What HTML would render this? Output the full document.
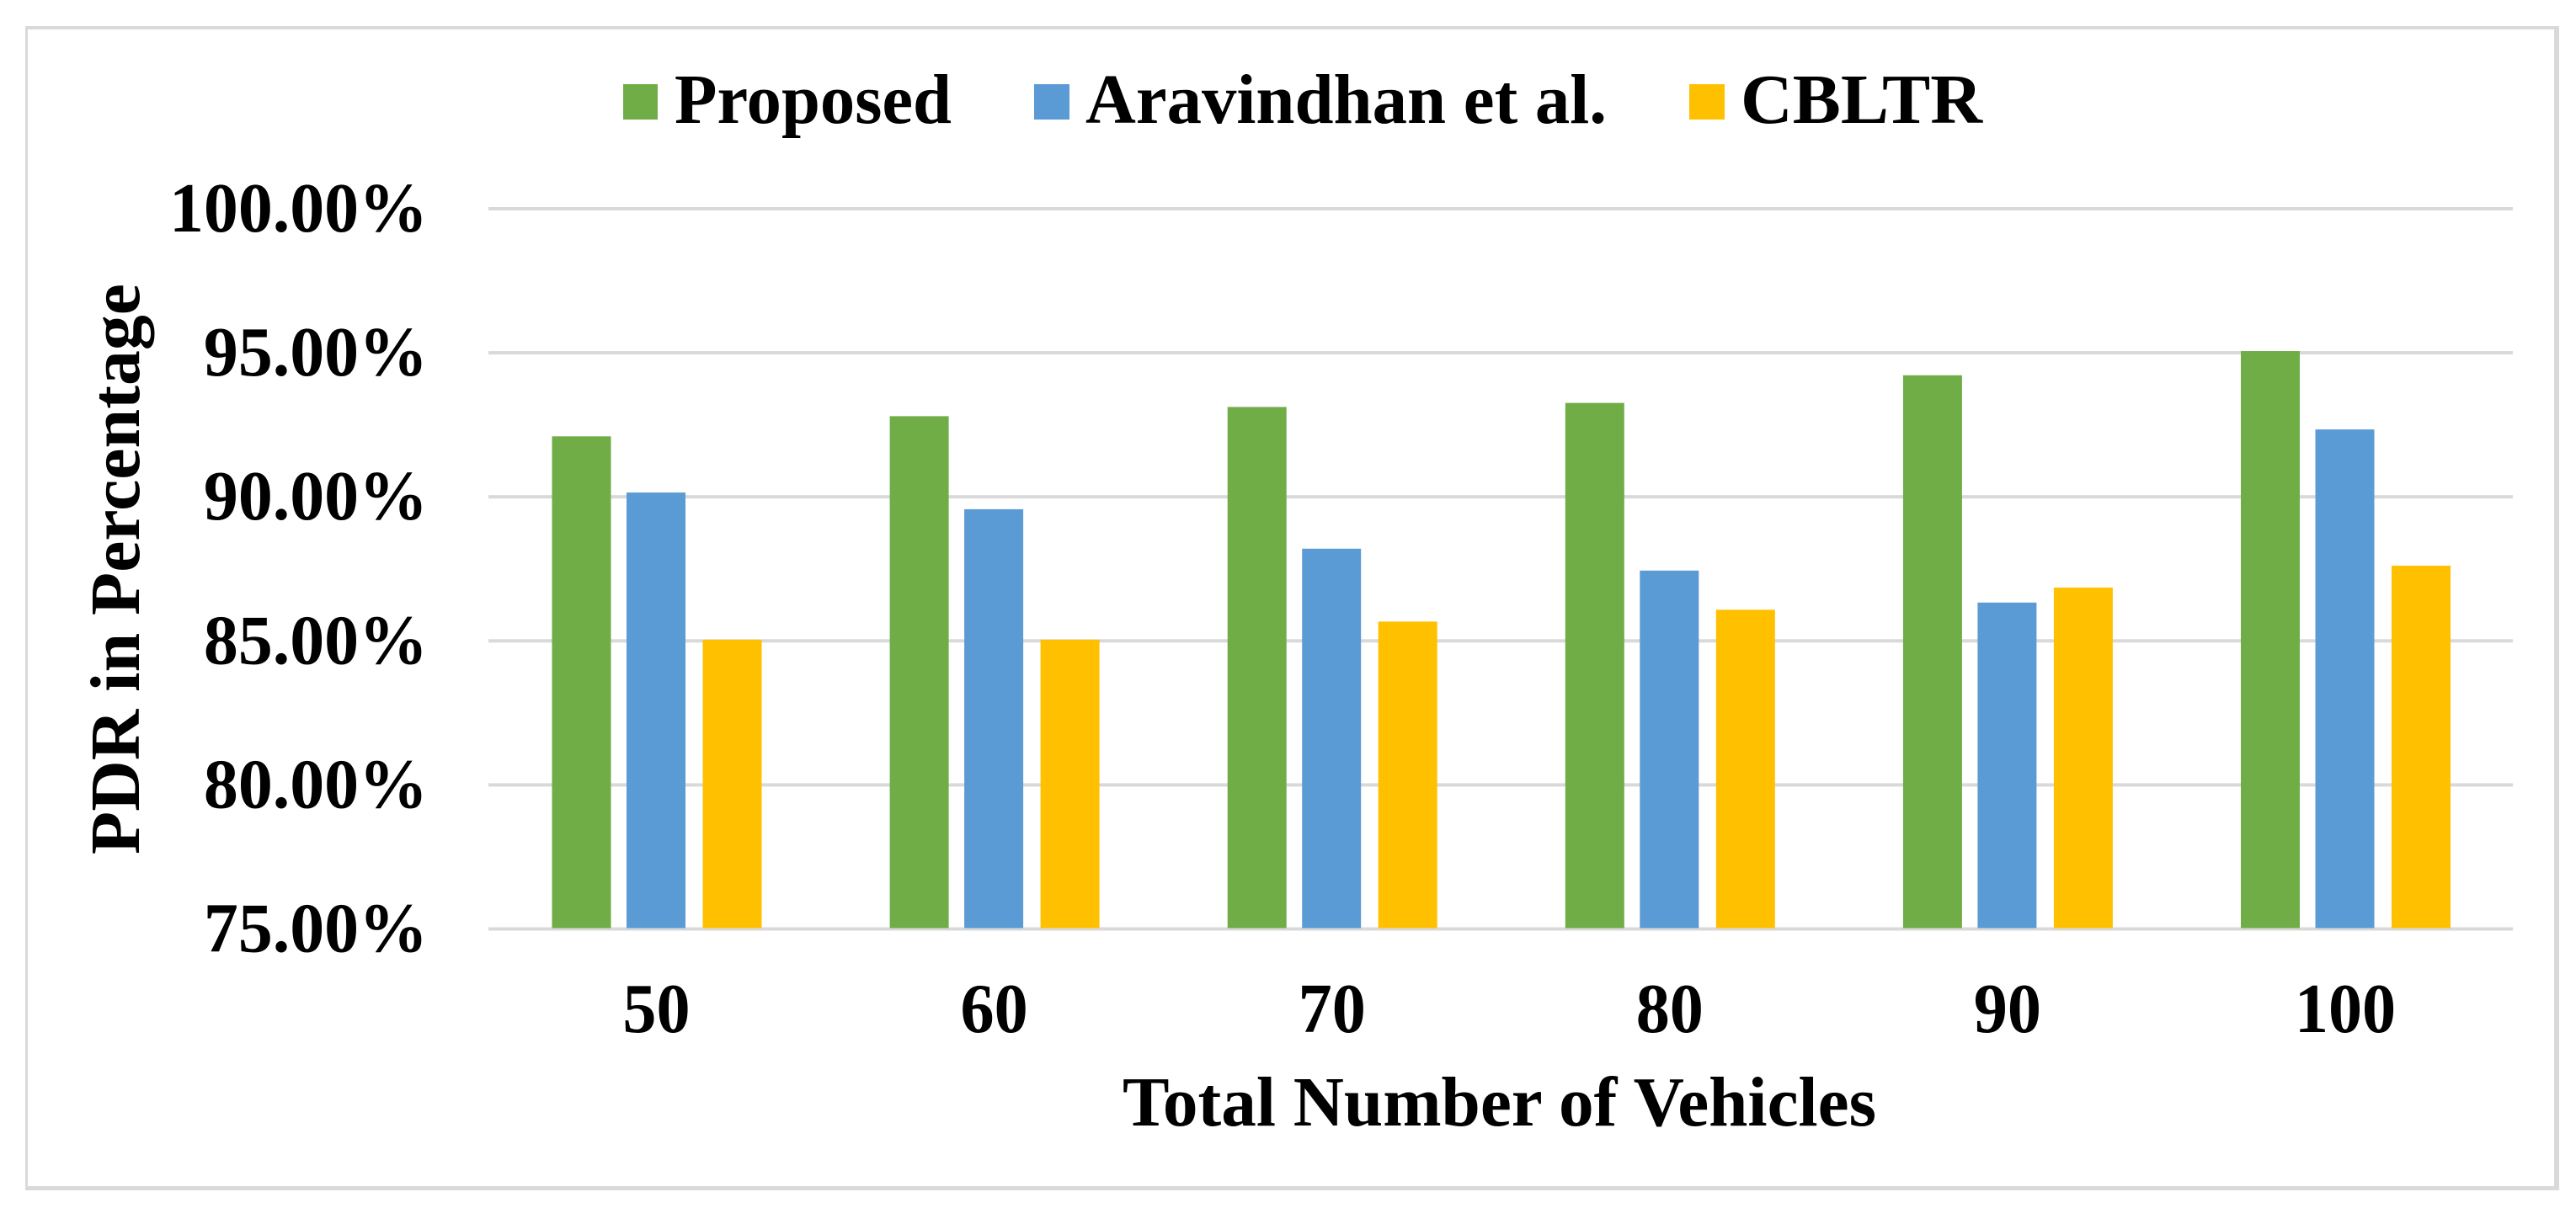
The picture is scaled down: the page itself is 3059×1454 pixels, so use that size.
<!DOCTYPE html>
<html lang="en">
<head>
<meta charset="utf-8">
<title>PDR in Percentage vs Total Number of Vehicles</title>
<style>
  html, body { margin: 0; padding: 0; background: #ffffff; }
  svg { display: block; }
  text { font-family: "Liberation Serif", serif; font-weight: bold; fill: #000000; }
</style>
</head>
<body>
<svg id="chart" xmlns="http://www.w3.org/2000/svg" width="3059" height="1454" viewBox="0 0 3059 1454">
  <rect x="0" y="0" width="3059" height="1454" fill="#ffffff"/>
  <g fill="#d9d9d9">
    <rect x="30" y="31" width="3008" height="4"/>
    <rect x="30" y="1409" width="3008" height="5"/>
    <rect x="30" y="31" width="3" height="1383"/>
    <rect x="3033" y="31" width="6" height="1383"/>
  </g>
  <g id="grid"></g>
  <g id="bars"></g>
  <g id="yticks"></g>
  <g id="xticks"></g>

  <g>
    <g>
      <rect x="740" y="100" width="41" height="42" fill="#70ad47"/>
      <text x="801" y="146" font-size="84" textLength="329" lengthAdjust="spacingAndGlyphs">Proposed</text>
    </g>
    <g>
      <rect x="1228" y="100" width="42" height="42" fill="#5b9bd5"/>
      <text x="1289" y="146" font-size="84" textLength="619" lengthAdjust="spacingAndGlyphs">Aravindhan et al.</text>
    </g>
    <g>
      <rect x="2006" y="100" width="42" height="42" fill="#ffc000"/>
      <text x="2067" y="146" font-size="84" textLength="287" lengthAdjust="spacingAndGlyphs">CBLTR</text>
    </g>
  </g>

  <text transform="translate(165,1015) rotate(-90)" font-size="84" textLength="678" lengthAdjust="spacingAndGlyphs">PDR in Percentage</text>
  <text x="1333" y="1337" font-size="84" textLength="895" lengthAdjust="spacingAndGlyphs">Total Number of Vehicles</text>
</svg>

<script>
const categories = ["50", "60", "70", "80", "90", "100"];
const proposed = [92.10, 92.80, 93.12, 93.26, 94.22, 95.06];
const aravindhan = [90.15, 89.57, 88.20, 87.44, 86.33, 92.34];
const cbltr = [85.04, 85.04, 85.67, 86.08, 86.85, 87.61];
const yTickValues = [75, 80, 85, 90, 95, 100];
const yTickLabels = ["75.00%", "80.00%", "85.00%", "90.00%", "95.00%", "100.00%"];

const NS = "http://www.w3.org/2000/svg";
const plotLeft = 580, plotRight = 2984;
const yBottom = 1103.5, yTop = 248, yMin = 75, yMax = 100;
const groupStep = 401.1, firstCenter = 779.5, barWidth = 70;
const barOffsets = [-124, -35.5, 55];
const seriesList = [
  { key: "proposed", values: proposed, color: "#70ad47" },
  { key: "aravindhan", values: aravindhan, color: "#5b9bd5" },
  { key: "cbltr", values: cbltr, color: "#ffc000" }
];

function yScale(v) { return yBottom - (v - yMin) / (yMax - yMin) * (yBottom - yTop); }
function xCenter(i) { return firstCenter + i * groupStep; }

function make(tag, attrs, parent) {
  const el = document.createElementNS(NS, tag);
  for (const k in attrs) el.setAttribute(k, attrs[k]);
  parent.appendChild(el);
  return el;
}

const gridG = document.getElementById("grid");
const barsG = document.getElementById("bars");
const yG = document.getElementById("yticks");
const xG = document.getElementById("xticks");

yTickValues.forEach(function (v, i) {
  const y = yScale(v);
  const line = make("rect", { x: plotLeft, y: y - 2, width: plotRight - plotLeft, height: 4, fill: "#d9d9d9" }, gridG);
  
  
  const label = make("text", { transform: "translate(508," + (y + 27) + ") scale(0.975,1)", "font-size": 84, "text-anchor": "end" }, yG);
  label.textContent = yTickLabels[i];
  
  
});

categories.forEach(function (c, i) {
  seriesList.forEach(function (s, j) {
    const top = yScale(s.values[i]);
    const bar = make("rect", { x: xCenter(i) + barOffsets[j], y: top, width: barWidth, height: yBottom - 1 - top, fill: s.color }, barsG);
    
    
  });
  const label = make("text", { transform: "translate(" + xCenter(i) + ",1226) scale(0.955,1)", "font-size": 84, "text-anchor": "middle" }, xG);
  label.textContent = c;
  
  
});
</script>
</body>
</html>
